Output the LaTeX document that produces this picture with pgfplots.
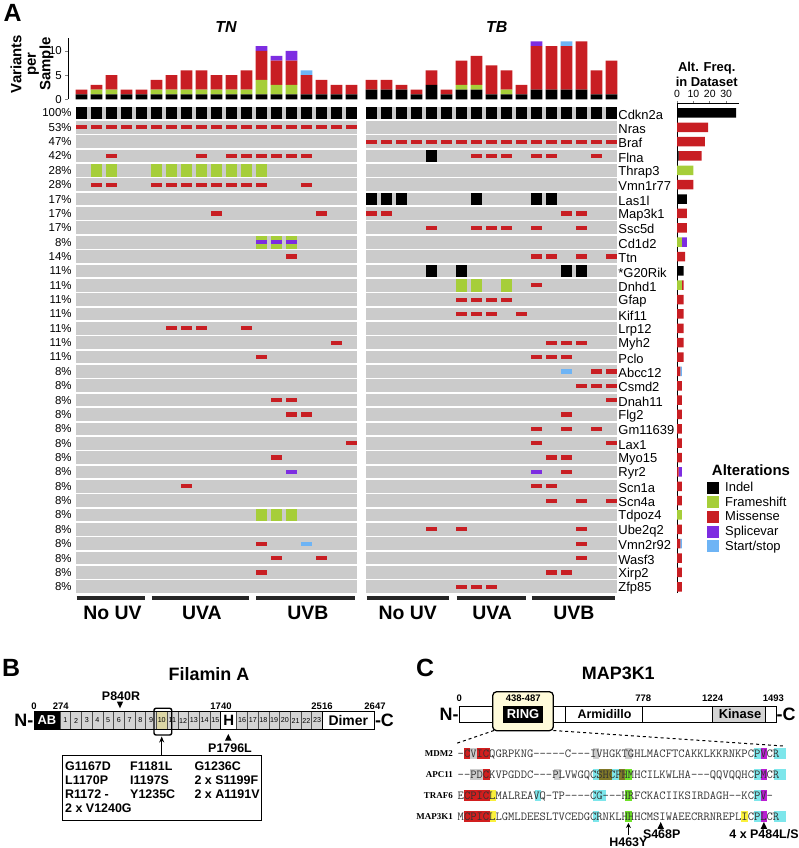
\documentclass[border=0pt]{standalone}
\usepackage{pgfplots}
\pgfplotsset{compat=1.18}
\usepackage{pgfplotstable}
\usepackage{fontspec}
\setmainfont{Liberation Sans}
\newfontfamily\serifb{Liberation Serif}
\usetikzlibrary{arrows.meta}
\newcommand\fs[1]{\fontsize{#1}{#1}\selectfont}

\definecolor{cellgray}{RGB}{203,203,203}
\definecolor{fsgreen}{RGB}{166,206,57}
\definecolor{misred}{RGB}{200,30,35}
\definecolor{splpurple}{RGB}{125,45,225}
\definecolor{ssblue}{RGB}{110,180,245}
\definecolor{boxgray}{RGB}{212,212,212}
\definecolor{khaki}{RGB}{220,214,165}
\definecolor{cream}{RGB}{255,251,218}
\definecolor{hred}{RGB}{210,30,30}
\definecolor{hgray}{RGB}{205,205,205}
\definecolor{hcyan}{RGB}{125,230,235}
\definecolor{hmag}{RGB}{185,30,210}
\definecolor{holive}{RGB}{128,120,40}
\definecolor{hgreen}{RGB}{110,225,40}
\definecolor{hyellow}{RGB}{250,240,60}

\pgfdeclareplotmark{cellfull}{\pgfpathrectangle{\pgfpoint{-5.85bp}{-6.35bp}}{\pgfpoint{11.7bp}{12.7bp}}\pgfusepath{fill}}
\pgfdeclareplotmark{cellbar}{\pgfpathrectangle{\pgfpoint{-5.85bp}{-2.1bp}}{\pgfpoint{11.7bp}{4.2bp}}\pgfusepath{fill}}
\pgfplotsset{sq/.style={legend image code/.code={\fill[##1] (0bp,-6bp) rectangle (12bp,6bp); \path (16bp,0bp);}}}

% variants per sample (x = column position)
\pgfplotstableread{
x b g r p s
0 1 0 1 0 0
1 1 1 1 0 0
2 1 1 3 0 0
3 1 0 1 0 0
4 1 0 1 0 0
5 1 1 2 0 0
6 1 1 3 0 0
7 1 1 4 0 0
8 1 1 4 0 0
9 1 1 3 0 0
10 1 1 3 0 0
11 1 1 4 0 0
12 1 3 6 1 0
13 1 2 5 1 0
14 1 2 5 2 0
15 1 0 4 0 1
16 1 0 3 0 0
17 1 0 2 0 0
18 1 0 2 0 0
19.3333 2 0 2 0 0
20.3333 2 0 2 0 0
21.3333 2 0 1 0 0
22.3333 1 0 1 0 0
23.3333 3 0 3 0 0
24.3333 1 0 1 0 0
25.3333 2 1 5 0 0
26.3333 2 1 6 0 0
27.3333 1 0 6 0 0
28.3333 1 1 4 0 0
29.3333 1 0 2 0 0
30.3333 2 0 9 1 0
31.3333 2 0 9 0 0
32.3333 2 0 9 0 1
33.3333 2 0 10 0 0
34.3333 1 0 5 0 0
35.3333 1 0 7 0 0
}\topbars

% alteration frequency per gene (y = 35 - row)
\pgfplotstableread{
y b g r p s
34 36 0 0 0 0
33 0 0 19 0 0
32 0 0 17 0 0
31 1 0 14 0 0
30 0 10 0 0 0
29 0 0 10 0 0
28 6 0 0 0 0
27 0 0 6 0 0
26 0 0 6 0 0
25 0 3 0 3 0
24 0 0 5 0 0
23 4 0 0 0 0
22 0 3 1 0 0
21 0 0 4 0 0
20 0 0 4 0 0
19 0 0 4 0 0
18 0 0 4 0 0
17 0 0 4 0 0
16 0 0 2 0 1
15 0 0 3 0 0
14 0 0 3 0 0
13 0 0 3 0 0
12 0 0 3 0 0
11 0 0 3 0 0
10 0 0 3 0 0
9 0 0 1 2 0
8 0 0 3 0 0
7 0 0 3 0 0
6 0 3 0 0 0
5 0 0 3 0 0
4 0 0 2 0 1
3 0 0 3 0 0
2 0 0 3 0 0
1 0 0 3 0 0
}\freqbars

\newcommand\hl[3]{\fill[#3] ({457.5+(#1-1)*6.45},{#2-5.5}) rectangle ++(6.45,11);}

\begin{document}
\begin{tikzpicture}[x=1bp,y=1bp]
\path[use as bounding box] (0,0) rectangle (799,848);

% ---------------- Panel A ----------------
\node[font=\bfseries\fs{25}] at (12.5,835) {A};
\node[font=\bfseries\itshape\fs{16}] at (226,820.8) {TN};
\node[font=\bfseries\itshape\fs{16}] at (496.7,821) {TB};
\node[rotate=90, align=center, font=\bfseries\fontsize{15}{14.5}\selectfont] at (32,784) {Variants\\per\\Sample};
\node[align=center, font=\bfseries\fontsize{13}{15}\selectfont] at (706.7,774) {Alt. Freq.\\in Dataset};
\node[font=\bfseries\fs{15}] at (751,378) {Alterations};

% top stacked bars
\begin{axis}[
  at={(68.3bp,748.7bp)}, anchor=south west,
  x=15bp, y=4.83bp,
  xmin=-0.88, xmax=35.723, ymin=0, ymax=12.7,
  enlargelimits=false,
  ybar stacked, bar width=11.7bp,
  axis x line=none, axis y line*=left,
  axis line style={-, line width=0.8bp},
  ytick={0,5,10}, tick align=outside, major tick length=3bp,
  tick style={line width=0.8bp},
  yticklabel style={font=\fs{11.5}},
  /pgf/number format/assume math mode=true,
  clip=false,
]
\addplot[fill=black, draw=none] table[x=x,y=b]{\topbars};
\addplot[fill=fsgreen, draw=none] table[x=x,y=g]{\topbars};
\addplot[fill=misred, draw=none] table[x=x,y=r]{\topbars};
\addplot[fill=splpurple, draw=none] table[x=x,y=p]{\topbars};
\addplot[fill=ssblue, draw=none] table[x=x,y=s]{\topbars};
\end{axis}

% oncoprint grid
\begin{axis}[
  at={(75.7bp,741.4bp)}, anchor=north west,
  x=15bp, y=14.36bp,
  xmin=-0.39, xmax=35.723, ymin=0.558, ymax=34.442,
  enlargelimits=false,
  axis background/.style={fill=cellgray},
  axis line style={draw=none},
  xtick=\empty,
  ytick={1,...,34},
  yticklabels={8\%,8\%,8\%,8\%,8\%,8\%,8\%,8\%,8\%,8\%,8\%,8\%,8\%,8\%,8\%,8\%,11\%,11\%,11\%,11\%,11\%,11\%,11\%,14\%,8\%,17\%,17\%,17\%,28\%,28\%,42\%,47\%,53\%,100\%},
  yticklabel style={font=\fs{11.5}, xshift=-0.5bp},
  minor xtick={0.5,1.5,2.5,3.5,4.5,5.5,6.5,7.5,8.5,9.5,10.5,11.5,12.5,13.5,14.5,15.5,16.5,17.5,19.8333,20.8333,21.8333,22.8333,23.8333,24.8333,25.8333,26.8333,27.8333,28.8333,29.8333,30.8333,31.8333,32.8333,33.8333,34.8333},
  minor ytick={1.5,2.5,3.5,4.5,5.5,6.5,7.5,8.5,9.5,10.5,11.5,12.5,13.5,14.5,15.5,16.5,17.5,18.5,19.5,20.5,21.5,22.5,23.5,24.5,25.5,26.5,27.5,28.5,29.5,30.5,31.5,32.5,33.5},
  xminorgrids, yminorgrids,
  minor x grid style={white, line width=3.3bp},
  minor y grid style={white, line width=1.66bp},
  major tick length=0pt, minor tick length=0pt,
  extra x ticks={18.6667}, extra x tick labels={},
  extra x tick style={grid=major, major grid style={white, line width=8.3bp}},
  clip=false,
]
% Indel
\addplot[only marks, mark=cellfull, black] coordinates {
(0,34)(1,34)(2,34)(3,34)(4,34)(5,34)(6,34)(7,34)(8,34)(9,34)(10,34)(11,34)(12,34)(13,34)(14,34)(15,34)(16,34)(17,34)(18,34)
(19.3333,34)(20.3333,34)(21.3333,34)(22.3333,34)(23.3333,34)(24.3333,34)(25.3333,34)(26.3333,34)(27.3333,34)(28.3333,34)(29.3333,34)(30.3333,34)(31.3333,34)(32.3333,34)(33.3333,34)(34.3333,34)(35.3333,34)
(23.3333,31)
(19.3333,28)(20.3333,28)(21.3333,28)(26.3333,28)(30.3333,28)(31.3333,28)
(23.3333,23)(25.3333,23)(32.3333,23)(33.3333,23)
};
% Frameshift
\addplot[only marks, mark=cellfull, fsgreen] coordinates {
(1,30)(2,30)(5,30)(6,30)(7,30)(8,30)(9,30)(10,30)(11,30)(12,30)
(12,25)(13,25)(14,25)
(25.3333,22)(26.3333,22)(28.3333,22)
(12,6)(13,6)(14,6)
};
% Missense
\addplot[only marks, mark=cellbar, misred] coordinates {
(0,33)(1,33)(2,33)(3,33)(4,33)(5,33)(6,33)(7,33)(8,33)(9,33)(10,33)(11,33)(12,33)(13,33)(14,33)(15,33)(16,33)(17,33)(18,33)
(19.3333,32)(20.3333,32)(21.3333,32)(22.3333,32)(23.3333,32)(24.3333,32)(25.3333,32)(26.3333,32)(27.3333,32)(28.3333,32)(29.3333,32)(30.3333,32)(31.3333,32)(32.3333,32)(33.3333,32)(34.3333,32)(35.3333,32)
(2,31)(8,31)(10,31)(11,31)(12,31)(13,31)(14,31)(15,31)(26.3333,31)(27.3333,31)(28.3333,31)(30.3333,31)(31.3333,31)(34.3333,31)
(1,29)(2,29)(5,29)(6,29)(7,29)(8,29)(9,29)(10,29)(11,29)(12,29)(15,29)
(9,27)(16,27)(19.3333,27)(20.3333,27)(32.3333,27)(33.3333,27)
(23.3333,26)(26.3333,26)(27.3333,26)(28.3333,26)(30.3333,26)(33.3333,26)
(14,24)(30.3333,24)(31.3333,24)(33.3333,24)(35.3333,24)
(30.3333,22)
(25.3333,21)(26.3333,21)(27.3333,21)(28.3333,21)
(25.3333,20)(26.3333,20)(27.3333,20)(29.3333,20)
(6,19)(7,19)(8,19)(11,19)
(17,18)(31.3333,18)(32.3333,18)(33.3333,18)
(12,17)(30.3333,17)(31.3333,17)(32.3333,17)
(34.3333,16)(35.3333,16)
(33.3333,15)(34.3333,15)(35.3333,15)
(13,14)(14,14)(35.3333,14)
(14,13)(15,13)(32.3333,13)
(30.3333,12)(32.3333,12)(34.3333,12)
(18,11)(30.3333,11)(35.3333,11)
(13,10)(31.3333,10)(32.3333,10)
(32.3333,9)
(7,8)(30.3333,8)(31.3333,8)
(31.3333,7)(33.3333,7)(35.3333,7)
(23.3333,5)(25.3333,5)(33.3333,5)
(12,4)(33.3333,4)
(13,3)(16,3)(33.3333,3)
(12,2)(31.3333,2)(32.3333,2)
(25.3333,1)(26.3333,1)(27.3333,1)
};
% Splicevar
\addplot[only marks, mark=cellbar, splpurple] coordinates {
(12,25)(13,25)(14,25)(14,9)(30.3333,9)
};
% Start/stop
\addplot[only marks, mark=cellbar, ssblue] coordinates {
(32.3333,16)(15,4)
};
\end{axis}

% gene names on the right of the grid
\begin{axis}[
  at={(75.7bp,741.4bp)}, anchor=north west,
  x=15bp, y=14.36bp,
  xmin=-0.39, xmax=35.723, ymin=0.558, ymax=34.442,
  enlargelimits=false,
  hide x axis, axis y line*=right, axis line style={draw=none},
  ytick={1,...,34},
  yticklabels={Zfp85,Xirp2,Wasf3,Vmn2r92,Ube2q2,Tdpoz4,Scn4a,Scn1a,Ryr2,Myo15,Lax1,Gm11639,Flg2,Dnah11,Csmd2,Abcc12,Pclo,Myh2,Lrp12,Kif11,Gfap,Dnhd1,*G20Rik,Ttn,Cd1d2,Ssc5d,Map3k1,Las1l,Vmn1r77,Thrap3,Flna,Braf,Nras,Cdkn2a},
  major tick length=0pt,
  yticklabel style={font=\fs{13}, anchor=west, xshift=-2.5bp, yshift=-1.5bp},
]
\addplot[draw=none] coordinates {(0,1)};
\end{axis}

% alteration frequency bars
\begin{axis}[
  at={(677bp,744.7bp)}, anchor=north west,
  x=1.64bp, y=14.36bp,
  xmin=0, xmax=37.5, ymin=0.558, ymax=34.67,
  enlargelimits=false,
  xbar stacked, bar width=9.5bp,
  axis x line*=top, axis y line*=left,
  axis line style={-, line width=0.9bp},
  ytick=\empty,
  xtick={0,10,20,30},
  tick align=outside, major tick length=2.5bp,
  tick style={line width=0.8bp},
  xticklabel style={font=\fs{10.5}},
  /pgf/number format/assume math mode=true,
  legend style={draw=none, fill=none, at={(0.488,0.231)}, anchor=north west, font=\fs{13}, row sep=-0.2bp, inner sep=0pt},
  legend cell align=left,
  clip=false,
]
\addplot[fill=black, draw=none, sq] table[x=b,y=y]{\freqbars}; \addlegendentry{Indel}
\addplot[fill=fsgreen, draw=none, sq] table[x=g,y=y]{\freqbars}; \addlegendentry{Frameshift}
\addplot[fill=misred, draw=none, sq] table[x=r,y=y]{\freqbars}; \addlegendentry{Missense}
\addplot[fill=splpurple, draw=none, sq] table[x=p,y=y]{\freqbars}; \addlegendentry{Splicevar}
\addplot[fill=ssblue, draw=none, sq] table[x=s,y=y]{\freqbars}; \addlegendentry{Start/stop}
\end{axis}

% treatment groups
\begin{scope}[line width=4bp, color=black!85]
\draw (76.7,250.3) -- (145,250.3);
\draw (151.7,250.3) -- (249,250.3);
\draw (256,250.3) -- (355,250.3);
\draw (366.7,250.3) -- (449,250.3);
\draw (456.7,250.3) -- (525.7,250.3);
\draw (531.7,250.3) -- (615,250.3);
\end{scope}
\begin{scope}[font=\bfseries\fs{19.5}]
\node at (112.5,235.5) {No UV};
\node at (201.8,235.5) {UVA};
\node at (307.8,235.5) {UVB};
\node at (407.8,235.5) {No UV};
\node at (492.2,235.5) {UVA};
\node at (573.8,235.5) {UVB};
\end{scope}

% ---------------- Panel B ----------------
\node[font=\bfseries\fs{25}] at (11,180) {B};
\node[font=\bfseries\fs{18}] at (209,173.5) {Filamin A};
\draw[fill=white, line width=0.8bp] (34,118.7) rectangle (374.3,136.3);
\fill[black] (34,118.7) rectangle (60,136.3);
\node[white, font=\bfseries\fs{13}] at (47,127.5) {AB};
\foreach \k in {1,...,9,11,12,13,14,15} {
  \draw[fill=boxgray, draw=black!70, line width=0.5bp] ({60+(\k-1)*10.71},118.7) rectangle ++(10.71,17.6);
  \node[font=\fs{7.2}, inner sep=0.5pt] at ({60+(\k-0.5)*10.71},127.5) {\k};
}
\draw[fill=khaki, draw=black!70, line width=0.5bp] ({60+9*10.71},118.7) rectangle ++(10.71,17.6);
\node[font=\fs{7.2}, inner sep=0.5pt] at ({60+9.5*10.71},127.5) {10};
\draw[fill=white, line width=0.6bp] (220.7,118.7) rectangle (236.7,136.3);
\node[font=\bfseries\fs{15}] at (228.7,127.5) {H};
\foreach \k in {16,...,23} {
  \draw[fill=boxgray, draw=black!70, line width=0.5bp] ({236.7+(\k-16)*10.71},118.7) rectangle ++(10.71,17.6);
  \node[font=\fs{7.2}, inner sep=0.5pt] at ({236.7+(\k-15.5)*10.71},127.5) {\k};
}
\draw[fill=white, line width=0.6bp] (322.4,118.7) rectangle (374.3,136.3);
\node[font=\bfseries\fs{14}] at (348.3,127.5) {Dimer};
\draw[line width=0.8bp] (34,118.7) rectangle (374.3,136.3);
\draw[line width=1.4bp, rounded corners=2bp] (154,113) rectangle (171.7,139.7);
\node[anchor=east, font=\bfseries\fs{18}, inner sep=0.5bp] at (34,127.5) {N-};
\node[anchor=west, font=\bfseries\fs{18}, inner sep=0.5bp] at (374.3,127.5) {-C};
\begin{scope}[font=\bfseries\fs{9.5}]
\node at (34,141.8) {0};
\node at (60.8,141.8) {274};
\node at (221,141.8) {1740};
\node at (322,141.8) {2516};
\node at (375,141.8) {2647};
\end{scope}
\fill (116.9,146.3) -- (123.1,146.3) -- (120,139.7) -- cycle;
\node[font=\bfseries\fs{12.5}] at (121,151.5) {P840R};
\fill (225,107.3) -- (231.6,107.3) -- (228.3,114) -- cycle;
\node[font=\bfseries\fs{12.5}] at (230,99.7) {P1796L};
\draw[line width=1bp, -{Stealth[length=6bp,width=5bp]}] (161.7,93) -- (161.7,111.5);
\draw[line width=0.9bp] (62.7,28) rectangle (261,93);
\begin{scope}[font=\bfseries\fs{12.5}, anchor=west, inner sep=0pt]
\node at (65,81.5) {G1167D};
\node at (130,81.5) {F1181L};
\node at (194.3,81.5) {G1236C};
\node at (65,67.7) {L1170P};
\node at (130,67.7) {I1197S};
\node at (194.3,67.7) {2 x S1199F};
\node at (65,53.9) {R1172 -};
\node at (130,53.9) {Y1235C};
\node at (194.3,53.9) {2 x A1191V};
\node at (65,40.1) {2 x V1240G};
\end{scope}

% ---------------- Panel C ----------------
\node[font=\bfseries\fs{25}] at (425,180) {C};
\node[font=\bfseries\fs{18}] at (618.3,174.3) {MAP3K1};
\draw[fill=white, line width=0.8bp] (459.3,125.3) rectangle (776,142);
\draw[fill=boxgray, line width=0.8bp] (712.7,125.3) rectangle (765,142);
\node[font=\bfseries\fs{13}] at (740,133.65) {Kinase};
\draw[line width=0.8bp] (565,125.3) -- (565,142);
\draw[line width=0.8bp] (642.7,125.3) -- (642.7,142);
\node[font=\bfseries\fs{12.5}] at (604.5,133.65) {Armidillo};
\draw[dashed, line width=1bp] (494,117.5) -- (456.7,104.7);
\draw[dashed, line width=1bp] (553.3,117.5) -- (783.3,102);
\draw[fill=cream, line width=1.3bp, rounded corners=4bp] (492.7,117.3) rectangle (553.3,156.3);
\fill[black] (502.7,125.3) rectangle (543.3,142);
\node[white, font=\bfseries\fs{13}] at (523,133.65) {RING};
\node[anchor=east, font=\bfseries\fs{18}, inner sep=0.5bp] at (459.3,133.65) {N-};
\node[anchor=west, font=\bfseries\fs{18}, inner sep=0.5bp] at (776,133.65) {-C};
\begin{scope}[font=\bfseries\fs{9.5}]
\node at (523.3,149.7) {438-487};
\node at (459.3,149.7) {0};
\node at (643.3,149.7) {778};
\node at (712.7,149.7) {1224};
\node at (773.3,149.7) {1493};
\end{scope}
% alignment highlights
\foreach \i/\c in {2/hred,3/hgray,4/hred,5/hred,22/hgray,27/hgray,47/hcyan,48/hmag,50/hcyan,51/hcyan} {\hl{\i}{94.5}{\c}}
\foreach \i/\c in {3/hgray,4/hgray,5/hred,16/hgray,22/hcyan,23/holive,24/holive,25/hcyan,26/holive,27/hgreen,47/hcyan,48/hmag,50/hcyan,51/hcyan} {\hl{\i}{73}{\c}}
\foreach \i/\c in {2/hred,3/hred,4/hred,5/hred,6/hyellow,13/hcyan,22/hcyan,23/hcyan,27/hgreen,47/hcyan,48/hmag} {\hl{\i}{52}{\c}}
\foreach \i/\c in {2/hred,3/hred,4/hred,5/hred,6/hyellow,22/hcyan,27/hgreen,45/hyellow,47/hcyan,48/hmag,50/hcyan,51/hcyan} {\hl{\i}{31}{\c}}
\begin{scope}[font=\serifb\bfseries\fs{9}, anchor=east, inner sep=0pt]
\node at (453,94.5) {MDM2};
\node at (453,73) {APC11};
\node at (453,52) {TRAF6};
\node at (453,31) {MAP3K1};
\end{scope}
\begin{scope}[font=\ttfamily\fs{12.29}, anchor=base west, inner sep=0pt, color=black!80]
\node at (457.5,90.8) {–CVICQGRPKNG–––––C–––IVHGKTGHLMACFTCAKKLKKRNKPCPVCR};
\node at (457.5,69.3) {––PDCKVPGDDC–––PLVWGQCSHCFHMHCILKWLHA–––QQVQQHCPMCR};
\node at (457.5,48.3) {ECPICLMALREAVQ–TP––––CG–––HRFCKACIIKSIRDAGH––KCPV–};
\node at (457.5,27.3) {MCPICLLGMLDEESLTVCEDGCRNKLHHHCMSIWAEECRRNREPLICPLCR};
\end{scope}
\draw[line width=1bp, -{Stealth[length=5bp,width=5bp]}] (628.4,13) -- (628.4,25);
\node[font=\bfseries\fs{12.5}] at (628.4,5.5) {H463Y};
\fill (657.4,19) -- (664,19) -- (660.7,26) -- cycle;
\node[font=\bfseries\fs{12.5}] at (661.7,14) {S468P};
\fill (760.6,19) -- (767.2,19) -- (763.9,26) -- cycle;
\node[font=\bfseries\fs{12.5}] at (764,14) {4 x P484L/S};
\end{tikzpicture}
\end{document}
